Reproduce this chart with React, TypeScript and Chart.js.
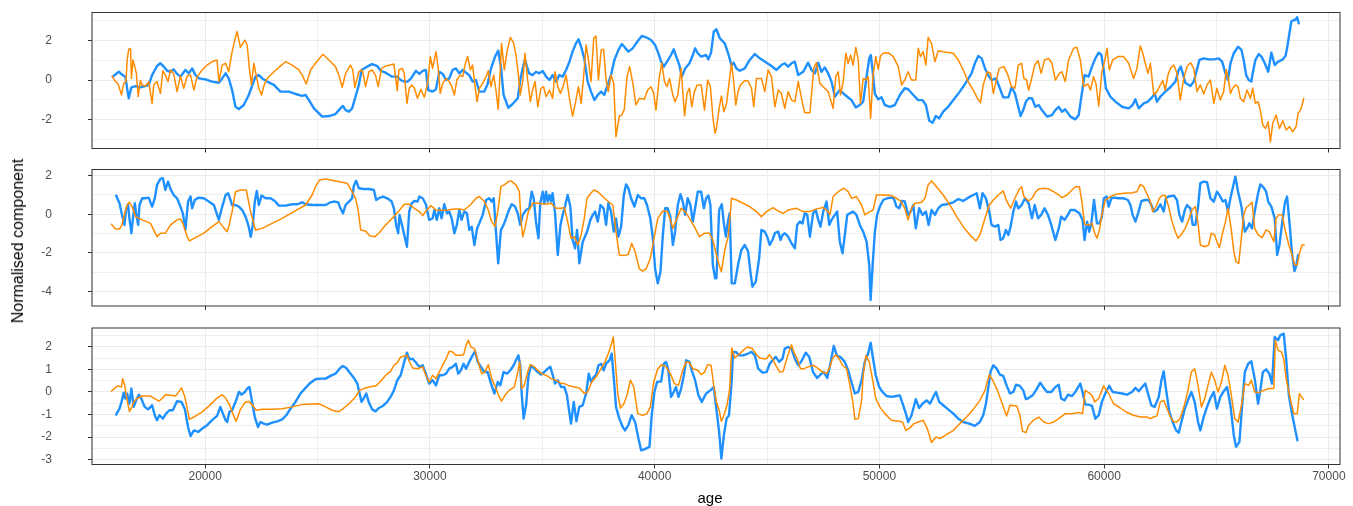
import React, { useEffect, useRef } from "react";
import { Chart, registerables } from "chart.js";
Chart.register(...registerables);

// ---------- axis ticks ----------
const xTickValues = [15000, 20000, 25000, 30000, 35000, 40000, 45000, 50000, 55000, 60000, 65000, 70000];
const xTickMajor = [20000, 30000, 40000, 50000, 60000, 70000];
const xMin = 14966;
const xMax = 70495;

const p1YTicks = [-3, -2, -1, 0, 1, 2, 3];
const p1YMajor = [-2, 0, 2];
const p2YTicks = [-4, -3, -2, -1, 0, 1, 2];
const p2YMajor = [-4, -2, 0, 2];
const p3YTicks = [-3, -2.5, -2, -1.5, -1, -0.5, 0, 0.5, 1, 1.5, 2, 2.5];
const p3YMajor = [-3, -2, -1, 0, 1, 2];

// ---------- data: [age, normalised value] ----------
const p1Blue = [[15890,0.17],[16160,0.42],[16330,0.25],[16450,0.17],[16600,-0.93],[16720,-0.37],[16900,-0.31],[17120,-0.37],[17340,-0.31],[17490,-0.25],[17640,0.25],[17860,0.71],[18010,0.85],[18160,0.68],[18310,0.47],[18460,0.42],[18600,0.54],[18750,0.31],[18900,0.17],[19120,0.51],[19270,0.34],[19420,0.59],[19570,0.25],[19720,0.08],[20010,0.03],[20310,-0.08],[20610,-0.14],[20760,0.08],[20910,0.34],[21050,0.08],[21200,-0.51],[21350,-1.36],[21500,-1.47],[21720,-1.27],[21940,-0.76],[22240,0.17],[22390,0.25],[22540,0.08],[22760,-0.08],[23060,-0.25],[23350,-0.59],[23720,-0.59],[24020,-0.71],[24320,-0.81],[24470,-0.76],[24620,-1.02],[24840,-1.44],[25210,-1.86],[25510,-1.83],[25800,-1.73],[26020,-1.44],[26130,-1.32],[26250,-1.53],[26400,-1.61],[26540,-1.44],[26690,-0.85],[26840,-0.25],[26960,0.51],[27210,0.68],[27430,0.81],[27660,0.71],[27810,0.47],[28030,0.37],[28320,0.17],[28550,0.17],[28700,0.00],[28860,-0.08],
[29010,-0.08],[29160,0.08],[29380,0.47],[29530,0.31],[29680,0.46],[29820,0.51],[29930,-0.51],[30120,-0.59],[30270,-0.47],[30420,0.42],[30570,0.31],[30720,0.00],[30860,0.08],[31010,0.51],[31160,0.59],[31310,0.34],[31460,0.51],[31610,0.37],[31750,0.25],[31900,-0.08],[32050,0.00],[32200,-0.59],[32420,-0.59],[32570,-0.20],[32720,0.59],[32900,1.19],[33040,1.49],[33160,0.68],[33280,-0.76],[33490,-1.41],[33680,-1.22],[33910,-0.93],[34020,0.00],[34130,0.59],[34230,1.05],[34320,0.68],[34420,0.34],[34570,0.25],[34720,0.42],[34870,0.34],[35020,0.46],[35170,0.17],[35320,0.00],[35460,0.25],[35610,-0.08],[35760,0.25],[35910,0.17],[36060,0.51],[36210,0.93],[36350,1.44],[36500,1.86],[36610,2.07],[36730,1.69],[36870,1.10],[37020,-0.08],[37170,-0.59],[37320,-1.02],[37470,-0.76],[37620,-0.59],[37760,-0.76],[37910,-0.25],[38060,0.25],[38210,1.02],[38390,1.53],[38540,1.83],[38650,1.69],[38830,1.44],[39020,1.61],[39250,1.98],[39430,2.24],[39620,2.17],[39840,2.03],[40020,1.78],[40140,1.44],[40290,0.93],[40410,0.68],[40580,0.98],[40730,1.27],[40850,1.56],[40950,1.22],[41100,0.76],[41210,0.17],[41360,0.59],[41550,0.85],[41700,1.27],[41800,1.61],[41920,1.36],[42070,1.19],[42290,1.27],[42390,1.05],[42510,1.39],[42630,2.46],[42750,2.58],
[42900,2.12],[43120,1.86],[43270,1.36],[43420,0.76],[43520,0.88],[43640,0.59],[43790,0.47],[44010,0.59],[44230,1.02],[44460,1.32],[44680,1.10],[44980,0.88],[45200,0.71],[45420,0.51],[45640,0.76],[45790,0.85],[45940,0.68],[46090,0.85],[46240,0.93],[46390,0.25],[46610,0.42],[46830,0.88],[46980,0.51],[47130,0.34],[47280,0.88],[47420,0.42],[47570,0.64],[47720,0.34],[47870,-0.08],[48020,-0.85],[48120,-0.68],[48240,-0.51],[48390,-0.68],[48570,-0.85],[48760,-1.02],[48950,-1.39],[49130,-1.27],[49280,-1.10],[49430,0.17],[49550,1.10],[49620,1.27],[49720,0.25],[49800,-0.71],[49950,-0.98],[50100,-0.88],[50240,-1.27],[50470,-1.36],[50690,-1.27],[50910,-0.76],[51130,-0.42],[51280,-0.47],[51510,-0.76],[51730,-1.02],[51920,-1.02],[52070,-1.27],[52220,-2.07],[52370,-2.17],[52510,-1.83],[52660,-1.95],[52840,-1.61],[53060,-1.36],[53290,-1.02],[53580,-0.59],[53880,-0.08],[54100,0.34],[54250,0.85],[54400,1.22],[54550,1.10],[54700,0.59],[54840,0.25],[54990,0.00],[55190,0.08],[55360,-0.42],[55510,-0.88],[55740,-0.88],[55880,-0.37],[56030,-0.68],[56180,-1.36],[56280,-1.83],[56400,-1.53],[56520,-1.10],[56640,-0.93],
[56790,-0.93],[56940,-1.36],[57090,-1.27],[57230,-1.53],[57460,-1.86],[57680,-1.78],[57830,-1.53],[57980,-1.36],[58120,-1.61],[58270,-1.49],[58500,-1.86],[58720,-2.00],[58870,-1.78],[59010,-0.68],[59130,0.25],[59310,0.17],[59460,0.68],[59610,1.10],[59760,1.39],[59880,1.27],[59980,0.51],[60080,-0.42],[60280,-0.85],[60500,-1.10],[60800,-1.36],[61090,-1.44],[61270,-1.27],[61390,-0.98],[61540,-1.44],[61760,-1.19],[61950,-1.10],[62130,-0.88],[62250,-0.68],[62350,-1.10],[62500,-0.85],[62720,-0.59],[62950,-0.37],[63170,-0.08],[63320,0.51],[63410,0.68],[63500,0.34],[63610,-0.14],[63840,-0.31],[63990,-0.08],[64130,0.54],[64240,1.02],[64430,1.10],[64650,1.05],[64880,1.05],[65100,1.10],[65250,0.93],[65400,0.34],[65510,0.00],[65620,0.85],[65770,1.36],[65960,1.69],[66110,1.53],[66210,1.02],[66320,0.25],[66430,0.00],[66550,-0.08],[66610,0.34],[66730,1.02],[66880,1.32],[67000,1.19],[67150,0.85],[67300,0.42],[67440,1.39],[67590,0.76],[67740,0.93],[67920,1.02],[68070,1.22],[68140,1.61],[68220,2.20],[68330,2.97],[68440,3.05],[68510,3.05],[68590,3.19],[68660,2.88]];

const p1Orange = [[15860,0.20],[16010,-0.08],[16130,-0.20],[16280,-0.76],[16380,-0.17],[16480,-0.08],[16530,1.02],[16600,1.56],[16680,1.61],[16720,0.08],[16790,1.02],[16870,0.68],[16940,0.34],[17020,-0.85],[17120,-0.03],[17200,-0.25],[17340,-0.31],[17490,-0.08],[17640,-1.19],[17710,-0.25],[17860,-0.08],[18010,-0.68],[18120,0.47],[18230,0.25],[18350,-0.08],[18460,0.51],[18600,0.31],[18750,-0.59],[18900,0.20],[19050,-0.42],[19200,0.20],[19350,0.25],[19500,-0.51],[19640,0.17],[19870,0.51],[20090,0.76],[20310,0.93],[20530,1.02],[20610,-0.08],[20760,0.76],[20910,0.85],[21050,0.42],[21200,1.44],[21320,2.03],[21420,2.46],[21570,1.66],[21680,1.86],[21770,2.03],[21870,1.78],[21970,0.59],[22060,-0.25],[22170,0.85],[22270,0.25],[22390,-0.42],[22510,-0.76],[22610,-0.31],[22760,0.08],[23060,0.42],[23280,0.64],[23580,0.93],[23870,0.76],[24170,0.51],[24320,0.25],[24500,-0.20],[24690,0.51],[24910,0.85],[25240,1.31],[25510,1.02],[25800,0.68],[25950,0.25],[26100,-0.37],[26250,0.34],[26470,0.76],[26570,0.51],[26660,-0.37],[26840,0.42],[26990,0.51],[27140,-0.34],[27290,0.42],[27430,0.51],[27580,0.25],[27700,-0.34],[27850,0.59],[28030,0.71],[28250,0.76],[28400,0.81],[28550,-0.54],[28620,0.51],[28770,0.59],[28860,0.34],
[28980,-1.19],[29080,-0.42],[29190,-0.25],[29310,-0.42],[29450,-0.93],[29600,-0.47],[29750,-0.88],[29900,-0.17],[30020,1.19],[30120,0.59],[30270,1.44],[30370,0.59],[30460,-0.68],[30570,-0.17],[30720,0.08],[30860,-0.08],[30970,-0.31],[31090,-0.76],[31200,0.00],[31350,0.25],[31460,0.17],[31560,0.76],[31680,1.19],[31800,0.51],[31900,0.76],[32010,-0.34],[32100,-1.10],[32200,-0.42],[32350,-0.17],[32500,0.17],[32600,0.47],[32720,-0.34],[32840,0.25],[32940,-0.51],[33040,-1.49],[33190,1.86],[33310,0.51],[33430,1.44],[33580,2.17],[33730,1.86],[33830,1.27],[33940,0.25],[34020,-0.76],[34130,-0.08],[34230,1.36],[34350,0.00],[34470,-1.10],[34570,-0.51],[34680,-0.08],[34800,-1.36],[34940,-0.42],[35060,-0.34],[35170,-0.85],[35320,-0.51],[35460,-0.93],[35570,0.42],[35690,-0.34],[35810,-0.68],[35920,-0.37],[36060,0.25],[36210,-0.93],[36350,-1.83],[36500,-1.02],[36610,-0.34],[36730,-1.19],[36840,0.17],[36950,1.78],[37050,1.05],[37170,-0.08],[37290,2.12],[37390,2.24],[37500,0.00],[37620,1.53],[37730,1.56],[37840,0.00],[37940,-0.59],[38060,0.25],[38180,-0.17],[38280,-2.88],[38430,-1.83],[38540,-1.78],[38650,-1.49],[38770,0.17],[38890,0.68],[39030,-0.17],[39170,-1.27],[39320,-0.93],[39540,-0.98],[39690,-0.51],[39840,-0.34],[39960,-0.68],[40060,-1.53],[40210,0.17],[40320,0.85],[40440,-0.08],[40550,-0.34],[40660,0.08],[40810,-0.76],[40910,-1.10],[41030,-0.76],[41180,0.59],[41330,-1.83],[41440,-0.68],[41550,-0.42],[41650,-1.36],[41770,-0.59],[41890,-0.25],[42070,-0.25],[42220,-1.53],[42360,0.00],[42480,-0.34],[42590,-1.86],[42690,-2.71],
[42750,-2.46],[42870,-1.44],[42970,-0.81],[43080,-1.61],[43200,-1.19],[43310,-0.17],[43420,0.85],[43520,-0.08],[43610,-1.27],[43710,-0.59],[43820,-0.25],[44010,-0.03],[44160,-0.05],[44310,-0.42],[44410,-1.36],[44530,0.08],[44750,0.08],[44900,-0.59],[45050,0.51],[45200,0.17],[45350,-1.36],[45500,-0.51],[45640,-0.68],[45790,-1.44],[45940,-0.59],[46090,-1.02],[46240,-1.10],[46390,-0.08],[46580,-1.19],[46680,-1.66],[46910,-1.66],[47080,0.59],[47200,0.88],[47350,-0.17],[47500,-0.34],[47720,-0.59],[47940,-1.44],[48060,0.17],[48170,0.42],[48270,-0.76],[48390,-0.08],[48510,1.36],[48610,0.85],[48720,1.27],[48830,0.76],[48950,1.66],[49060,1.02],[49160,-1.19],[49280,0.08],[49400,0.00],[49500,0.17],[49610,-1.95],[49720,0.25],[49840,1.19],[49950,0.54],[50050,1.22],[50170,1.36],[50390,1.39],[50620,1.19],[50840,0.68],[50990,-0.25],[51130,0.00],[51280,0.42],[51430,0.00],[51620,0.00],[51730,1.61],[51830,1.19],[51950,1.44],[52070,0.76],[52170,2.17],[52320,1.86],[52470,0.93],[52620,1.49],[52840,1.44],[53290,1.36],[53510,1.02],[53730,0.51],[53950,-0.08],[54180,-0.51],[54360,-0.93],[54500,-1.15],[54620,-0.25],[54800,0.42],[54950,0.34],[55070,-0.68],[55190,-0.08],[55330,0.59],[55540,0.68],[55690,0.34],[55880,-0.34],[56030,-0.42],[56180,0.76],[56330,0.85],[56430,0.08],[56550,0.00],
[56640,-0.51],[56760,0.00],[56910,0.76],[57060,0.98],[57200,0.34],[57350,1.02],[57530,1.10],[57680,0.85],[57830,0.00],[58010,0.34],[58120,0.42],[58270,-0.08],[58420,1.02],[58640,1.61],[58790,1.66],[58940,1.02],[59090,-0.34],[59280,-0.20],[59390,-0.51],[59530,0.17],[59640,-0.20],[59760,-1.32],[59900,0.42],[60020,0.93],[60130,1.61],[60230,0.51],[60380,1.02],[60620,1.19],[60870,1.19],[61090,0.85],[61310,0.08],[61460,0.59],[61610,1.73],[61720,1.36],[61830,0.85],[61950,0.34],[62060,0.85],[62210,-0.76],[62350,-0.59],[62500,-0.25],[62610,-0.03],[62720,-0.51],[62840,0.25],[62950,0.59],[63100,0.76],[63240,0.34],[63390,-1.02],[63540,0.08],[63690,0.68],[63840,0.88],[63990,0.59],[64130,-0.59],[64280,-0.25],[64430,-0.71],[64580,-0.25],[64730,0.00],[64880,-1.19],[65020,-0.42],[65170,-1.02],[65320,-0.59],[65430,0.54],[65510,0.17],[65620,-0.68],[65720,-0.42],[65840,-0.25],[65960,-0.34],[66060,-0.93],[66210,-1.10],[66360,-0.51],[66510,-0.93],[66610,-0.42],[66730,-1.19],[66850,-1.10],[66950,-1.53],[67060,-2.29],[67180,-2.46],[67300,-2.12],[67400,-3.14],[67500,-2.20],[67650,-1.78],[67800,-2.46],[67950,-2.07],[68100,-2.54],[68250,-2.37],[68390,-2.63],[68540,-2.37],[68630,-1.69],[68740,-1.53],[68810,-1.27],[68880,-0.93]];

const p2Blue = [[16040,0.97],[16190,0.57],[16300,-0.03],[16410,-0.55],[16480,0.22],[16570,0.52],[16630,-0.21],[16720,-0.98],[16780,-0.29],[16870,0.57],[16940,-0.03],[17020,-0.55],[17080,0.48],[17200,0.83],[17340,0.83],[17490,0.86],[17640,0.40],[17760,0.83],[17860,1.52],[18010,1.83],[18120,1.87],[18230,1.26],[18350,1.69],[18460,1.31],[18600,1.00],[18750,0.83],[18900,0.40],[19010,0.05],[19120,-0.81],[19240,0.66],[19350,0.92],[19420,0.31],[19540,0.74],[19690,0.86],[19940,0.83],[20160,0.66],[20390,0.48],[20610,-0.29],[20760,0.40],[20910,1.00],[21020,1.09],[21130,0.74],[21200,0.48],[21350,0.48],[21500,0.40],[21650,0.22],[21800,-0.12],[21940,-0.64],[22030,-1.16],[22120,-0.55],[22210,0.66],[22300,1.21],[22390,0.48],[22510,0.97],[22690,0.83],[22910,0.83],[23100,0.69],[23280,0.45],[23580,0.45],[23870,0.52],[24100,0.52],[24320,0.62],[24470,0.52],[24760,0.48],[25060,0.48],[25360,0.48],[25580,0.62],[25770,0.66],[25920,0.62],[26020,0.31],[26130,0.05],[26250,0.48],[26400,0.66],[26540,0.83],[26620,1.49],[26720,1.73],[26840,1.35],[27060,1.31],[27290,1.31],[27510,1.26],[27610,0.74],[27730,0.83],[27910,0.92],[28100,0.83],[28300,0.66],[28400,0.31],[28500,-0.55],[28590,-0.98],[28650,-0.03],[28740,-0.47],
[28860,-1.07],[28980,-1.68],[29080,0.14],[29190,0.57],[29310,0.69],[29450,0.66],[29530,0.92],[29680,0.83],[29820,0.52],[29970,-0.29],[30120,-0.21],[30200,0.22],[30310,-0.29],[30420,0.31],[30520,-0.21],[30640,0.52],[30760,0.05],[30860,0.14],[30970,-0.21],[31090,-0.98],[31200,-0.55],[31310,0.22],[31410,-0.29],[31530,0.14],[31650,0.05],[31750,-0.81],[31860,-0.64],[31980,-1.59],[32100,-0.73],[32200,-0.47],[32350,-0.03],[32500,0.74],[32640,0.83],[32750,0.66],[32840,0.83],[32940,-0.90],[33040,-2.54],[33160,-0.81],[33280,-0.55],[33390,-0.21],[33490,0.14],[33640,0.52],[33790,0.40],[33910,0.05],[34020,-0.55],[34130,-0.03],[34280,0.22],[34420,0.31],[34530,1.17],[34620,0.83],[34720,-0.38],[34830,-1.24],[34910,0.57],[35020,1.17],[35090,0.57],[35170,1.17],[35240,0.66],[35320,1.00],[35390,0.66],[35460,1.09],[35570,0.05],[35690,-2.11],[35810,-0.55],[35910,-0.03],[36010,0.40],[36130,1.00],[36250,0.40],[36350,-1.33],[36460,-1.76],[36550,-0.81],[36650,-2.54],[36800,-1.42],[36900,-1.16],[37020,-0.81],[37140,-0.29],[37250,-0.03],[37350,0.14],[37470,-0.38],[37590,0.48],[37730,0.31],[37840,-0.55],[37940,0.57],[38060,0.14],[38180,-0.90],[38280,-0.21],[38390,-1.16],[38510,-0.64],[38630,1.00],[38730,1.55],[38830,1.35],[38950,0.83],[39100,0.40],[39250,1.00],[39400,0.83],[39540,0.83],[39660,0.48],[39810,-0.21],[39920,-1.24],[40020,-2.80],[40140,-3.58],[40260,-2.97],[40360,-1.16],[40470,0.31],[40580,0.31],[40700,-0.12],[40810,-1.59],[40910,-0.90],[41030,0.48],[41150,1.04],[41250,0.66],[41360,-0.03],[41470,0.83],[41590,0.48],[41700,-0.38],[41800,0.31],[41920,1.17],[42070,1.17],[42190,0.31],[42290,0.83],[42390,0.97],[42480,0.48],[42590,-2.63],[42690,-3.32],
[42750,-3.32],[42870,0.22],[42990,0.52],[43080,-0.47],[43170,-1.16],[43260,-0.38],[43340,0.05],[43430,-3.58],[43570,-3.58],[43710,-2.63],[43860,-1.85],[44010,-1.59],[44160,-1.93],[44260,-2.97],[44350,-3.75],[44500,-3.49],[44650,-2.28],[44750,-0.81],[44900,-0.90],[45010,-1.16],[45120,-1.59],[45240,-1.33],[45350,-0.98],[45500,-0.90],[45600,-1.33],[45690,-1.07],[45790,-0.98],[45940,-1.16],[46090,-1.50],[46240,-1.76],[46340,-0.55],[46460,-0.38],[46580,-0.47],[46680,0.05],[46790,-0.03],[46910,-1.16],[47050,0.05],[47170,0.22],[47280,-0.29],[47380,-0.64],[47500,0.14],[47650,0.66],[47770,-0.55],[47870,-0.29],[48020,-0.03],[48120,0.14],[48240,-1.42],[48360,-2.02],[48480,-0.90],[48570,-0.03],[48690,0.05],[48830,0.14],[48980,-0.03],[49130,-0.55],[49280,-0.90],[49430,-1.42],[49550,-2.63],[49610,-4.44],[49700,-2.63],[49800,-0.90],[49900,-0.03],[50020,0.40],[50170,0.74],[50350,0.83],[50500,0.86],[50640,0.83],[50760,0.40],[50880,0.31],[51000,0.69],[51130,0.66],[51280,-0.03],[51390,0.14],[51510,0.48],[51620,-0.73],[51770,0.31],[51920,-0.03],[52070,0.14],[52190,-0.55],[52320,0.22],[52470,-0.03],[52620,0.31],[52770,0.48],[52990,0.52],[53290,0.62],[53510,0.79],[53730,0.69],[53950,0.86],[54180,1.00],[54330,1.09],[54470,0.31],[54590,1.09],[54740,0.83],[54890,0.14],[54990,-0.55],[55140,-0.64],[55290,-0.55],[55390,-1.33],[55510,-1.24],[55630,-0.81],[55740,-1.07],[55840,-0.64],[55960,0.14],[56080,0.66],[56180,0.31],[56330,0.48],[56480,0.83],
[56640,0.57],[56790,-0.21],[56910,0.48],[57060,-0.21],[57200,-0.03],[57350,0.31],[57500,-0.03],[57650,-0.55],[57830,-1.33],[57980,-0.73],[58090,-0.12],[58240,-0.29],[58390,-0.03],[58500,0.22],[58690,0.22],[58900,0.05],[59040,-0.29],[59130,-1.33],[59240,-0.38],[59340,-0.90],[59430,-0.47],[59550,0.74],[59680,-0.47],[59790,-0.47],[59900,-0.12],[59990,0.83],[60110,0.92],[60200,0.40],[60320,0.83],[60470,0.86],[60650,0.83],[60870,0.83],[61060,0.74],[61170,0.48],[61270,-0.03],[61390,-0.38],[61510,0.05],[61660,0.69],[61830,0.74],[61980,0.74],[62100,0.48],[62210,0.14],[62350,0.22],[62500,0.52],[62650,0.14],[62750,0.83],[62870,0.92],[63100,0.97],[63240,0.74],[63350,-0.03],[63470,-0.38],[63590,0.22],[63690,0.48],[63840,0.31],[63940,-0.55],[64060,-0.55],[64180,0.40],[64280,1.61],[64430,1.69],[64580,1.66],[64730,0.83],[64880,0.66],[65020,1.17],[65130,1.00],[65280,0.66],[65400,0.74],[65510,0.14],[65620,0.83],[65720,1.35],[65840,1.95],[65960,1.17],[66110,0.40],[66260,-0.90],[66360,-0.73],[66460,-0.47],[66580,-0.73],[66700,0.14],[66850,1.09],[66950,1.55],[67100,1.38],[67210,1.17],[67300,0.66],[67440,0.40],[67590,-0.21],[67700,-2.11],[67800,-1.59],[67920,-0.47],[68040,0.57],[68140,0.92],[68250,-0.47],[68360,-2.02],[68470,-2.94],[68540,-2.71],[68630,-2.11]];

const p2Orange = [[15830,-0.52],[16010,-0.76],[16190,-0.76],[16300,-0.55],[16380,-0.12],[16530,0.48],[16630,0.62],[16750,0.40],[16900,-0.12],[17200,-0.29],[17570,-0.47],[17710,-0.81],[17860,-1.16],[18010,-0.98],[18230,-0.98],[18460,-0.55],[18750,-0.29],[18900,-0.24],[19010,-0.47],[19200,-1.16],[19300,-1.38],[19570,-1.21],[19940,-0.98],[20310,-0.64],[20610,-0.38],[20790,-0.64],[20980,-0.90],[21050,-0.64],[21200,0.14],[21350,1.17],[21570,1.26],[21830,1.26],[22020,0.14],[22240,-0.81],[22540,-0.73],[22980,-0.47],[23430,-0.21],[23950,0.14],[24470,0.48],[24760,1.00],[24910,1.43],[25090,1.78],[25360,1.83],[25800,1.73],[26320,1.61],[26540,1.17],[26690,0.83],[26810,0.22],[26920,-0.81],[27140,-0.86],[27320,-1.11],[27550,-1.16],[27730,-0.98],[28030,-0.55],[28400,-0.12],[28620,0.17],[28860,0.52],
[29080,0.52],[29310,0.31],[29530,0.14],[29680,-0.07],[29820,0.17],[30050,0.45],[30270,0.22],[30490,0.21],[30790,0.22],[31090,0.28],[31310,0.28],[31530,0.22],[31830,0.52],[32050,0.83],[32200,0.92],[32420,0.66],[32570,0.31],[32750,-0.38],[32900,-0.64],[33040,0.31],[33160,1.43],[33310,1.52],[33490,1.69],[33610,1.73],[33830,1.52],[33980,1.17],[34050,-0.21],[34130,-1.16],[34230,-0.73],[34380,0.14],[34570,0.57],[34800,0.57],[35090,0.52],[35390,0.57],[35610,0.31],[35840,0.31],[35980,0.35],[36130,-0.38],[36280,-1.24],[36430,-1.16],[36580,-1.59],[36730,-1.07],[36870,-0.21],[36990,0.83],[37100,1.00],[37290,1.26],[37470,1.17],[37690,0.92],[37910,0.69],[38140,0.48],[38280,-0.90],[38430,-2.11],[38650,-2.14],[38830,-2.07],[38980,-1.50],[39130,-1.93],[39320,-2.83],[39470,-2.94],[39620,-2.83],[39810,-2.28],[39960,-1.33],[40140,-0.21],[40360,0.17],[40580,0.14],[40810,-0.73],[41000,-0.21],[41180,0.31],[41360,0.14],[41550,-0.21],[41770,-0.64],[41990,-1.16],[42220,-0.98],[42440,-0.98],[42590,-1.33],
[42750,-2.11],[42870,-2.63],[42970,-2.97],[43120,-1.85],[43270,-1.16],[43370,0.05],[43420,0.83],[43640,0.74],[43940,0.57],[44230,0.40],[44530,0.14],[44750,-0.12],[44980,0.14],[45270,0.35],[45500,0.17],[45720,0.05],[45940,0.22],[46310,0.31],[46610,0.14],[46910,0.14],[47200,0.28],[47500,0.35],[47720,0.14],[47800,-0.03],[47940,0.92],[48170,1.17],[48420,1.35],[48610,1.17],[48760,0.83],[48980,0.92],[49210,0.48],[49350,-0.03],[49580,0.14],[49720,0.22],[49870,1.00],[50170,1.00],[50540,0.97],[50760,0.83],[50940,0.69],[51130,0.31],[51280,-0.29],[51430,0.31],[51580,0.57],[51880,0.62],[52030,0.83],[52170,1.52],[52320,1.73],[52540,1.43],[52840,1.00],[53140,0.48],[53440,-0.12],[53730,-0.64],[54030,-1.07],[54300,-1.38],[54470,-1.07],[54700,-0.21],[54890,0.48],[55070,0.74],[55290,1.00],[55510,1.21],[55660,0.69],[55840,0.31],[56030,0.83],[56230,1.31],[56330,1.43],[56430,0.92],
[56640,0.69],[56790,0.83],[56940,1.14],[57090,1.31],[57310,1.35],[57530,1.31],[57750,1.17],[57980,1.00],[58120,0.86],[58350,1.00],[58570,1.26],[58720,1.43],[58900,1.43],[59010,0.66],[59130,-0.52],[59340,-0.55],[59460,-0.47],[59580,-0.98],[59680,-1.24],[59790,-0.81],[59900,-0.03],[60050,0.74],[60280,0.92],[60530,1.04],[60870,1.09],[61240,1.12],[61460,1.17],[61610,1.55],[61760,1.43],[61910,1.04],[62060,0.66],[62160,0.14],[62310,0.40],[62460,0.83],[62580,0.97],[62720,0.97],[62870,0.40],[63020,-0.38],[63170,-0.90],[63290,-1.24],[63470,-0.98],[63610,-0.73],[63760,-0.29],[63910,0.22],[64060,0.40],[64180,-0.47],[64280,-1.59],[64480,-1.68],[64650,-1.59],[64770,-0.98],[64920,-1.07],[65020,-1.42],[65130,-1.73],[65250,-1.07],[65400,-0.38],[65510,0.31],[65660,-0.81],[65770,-1.93],[65870,-2.45],[65990,-2.54],[66110,-1.16],[66210,-0.03],[66320,0.35],[66460,0.48],[66580,0.62],[66700,-0.73],[66850,-1.07],[67030,-1.21],[67210,-0.81],[67350,-0.90],[67550,-1.42],[67650,-0.21],[67770,-0.03],[67920,-0.03],[68070,-0.90],[68220,-1.59],[68360,-2.11],[68480,-2.63],[68590,-2.63],[68690,-2.02],[68810,-1.59],[68900,-1.59]];

const p3Blue = [[16040,-1.00],[16190,-0.74],[16280,-0.44],[16380,-0.03],[16450,-0.29],[16530,-0.07],[16630,-0.52],[16720,0.15],[16820,-0.66],[16930,-0.37],[17050,-0.12],[17170,-0.32],[17310,-0.66],[17460,-0.77],[17640,-0.59],[17760,-1.03],[17860,-1.25],[17970,-1.03],[18120,-1.18],[18260,-0.96],[18410,-0.81],[18560,-0.81],[18750,-0.41],[18950,-0.44],[19100,-0.77],[19240,-1.55],[19350,-1.95],[19500,-1.70],[19690,-1.77],[19870,-1.62],[20090,-1.47],[20310,-1.25],[20530,-1.06],[20680,-0.66],[20790,-0.96],[20910,-1.25],[20980,-1.33],[21080,-0.88],[21200,-0.81],[21380,-0.37],[21500,0.00],[21620,-0.12],[21770,0.00],[21870,0.15],[21970,0.22],[22090,-0.44],[22210,-1.11],[22350,-1.55],[22460,-1.33],[22610,-1.40],[22760,-1.45],[22980,-1.36],[23210,-1.30],[23430,-1.21],[23610,-1.03],[23800,-0.74],[24020,-0.44],[24240,-0.07],[24470,0.18],[24690,0.41],[24910,0.56],[25130,0.59],[25360,0.59],[25580,0.71],[25800,0.81],[25980,1.03],[26130,1.15],[26280,1.06],[26430,0.86],[26620,0.62],[26770,0.37],[26840,0.07],[26960,-0.44],[27060,-0.27],[27170,-0.07],[27290,-0.47],[27430,-0.77],[27580,-0.86],[27730,-0.71],[27910,-0.62],[28100,-0.44],[28250,-0.22],[28400,0.07],[28550,0.52],[28700,0.74],[28860,1.33],
[28980,1.74],[29080,1.45],[29230,1.47],[29380,1.30],[29530,1.11],[29680,1.18],[29820,0.81],[29970,0.37],[30120,0.52],[30270,0.29],[30420,0.74],[30570,0.74],[30720,0.81],[30860,1.03],[31010,1.11],[31160,1.25],[31260,0.81],[31380,0.96],[31500,1.25],[31610,1.03],[31750,1.33],[31900,1.62],[32010,1.80],[32130,1.33],[32270,1.11],[32420,0.88],[32570,0.88],[32720,0.37],[32870,-0.07],[33020,0.44],[33130,0.29],[33280,0.88],[33430,0.81],[33580,0.96],[33730,1.18],[33830,1.40],[33940,1.62],[34020,1.18],[34080,0.00],[34170,-1.18],[34280,-0.59],[34380,0.66],[34500,1.18],[34650,1.03],[34800,0.88],[34940,0.77],[35090,0.88],[35240,1.03],[35360,1.11],[35460,0.77],[35570,0.37],[35690,0.52],[35840,0.22],[35980,0.22],[36100,-0.15],[36160,-0.59],[36280,-1.40],[36400,-0.44],[36520,-1.30],[36650,-0.66],[36800,-0.59],[36950,-0.07],[37070,0.81],[37170,0.44],[37290,0.66],[37390,0.74],[37500,1.18],[37620,1.25],[37730,0.96],[37840,1.25],[37990,1.40],[38090,1.70],[38210,0.29],[38280,-0.66],[38430,-1.18],[38580,-1.55],[38680,-1.70],[38830,-1.47],[38980,-1.03],[39130,-1.33],[39280,-2.06],[39400,-2.58],[39540,-2.54],[39770,-2.43],[39870,-1.03],[39990,0.00],[40110,0.44],[40290,0.47],[40410,1.25],[40510,1.33],[40610,0.96],[40730,-0.22],[40850,0.00],[40950,0.22],[41060,-0.22],[41180,0.15],[41300,0.74],[41400,1.40],[41550,1.33],[41650,0.96],[41800,0.52],[41950,-0.15],[42100,-0.44],[42290,-0.07],[42480,0.07],[42630,0.22],
[42870,-1.77],[42970,-2.95],[43080,-1.92],[43200,-1.18],[43310,-1.03],[43420,0.37],[43490,1.77],[43610,1.77],[43760,1.62],[43940,1.62],[44160,1.70],[44310,1.77],[44460,1.62],[44610,1.03],[44800,0.86],[44980,0.88],[45120,1.25],[45240,1.40],[45390,1.55],[45540,1.33],[45690,1.47],[45790,1.92],[45940,1.99],[46090,1.92],[46240,1.47],[46390,1.18],[46530,1.36],[46730,1.74],[46880,1.55],[47050,0.88],[47230,0.62],[47380,0.77],[47530,0.88],[47680,0.62],[47830,1.30],[47970,2.04],[48120,1.59],[48270,1.55],[48460,1.33],[48610,0.96],[48760,0.44],[48910,-0.07],[49060,0.00],[49210,0.52],[49350,1.33],[49500,1.70],[49610,2.18],[49720,1.47],[49840,0.74],[49990,0.22],[50140,0.00],[50320,-0.18],[50540,-0.22],[50760,-0.18],[50910,-0.15],[51060,-0.59],[51180,-0.96],[51280,-1.33],[51430,-1.03],[51620,-0.32],[51770,-0.71],[51920,-0.52],[52100,-0.37],[52250,-0.52],[52400,-0.22],[52520,0.00],[52660,-0.44],[52840,-0.59],[53060,-0.77],[53290,-0.96],[53510,-1.18],[53730,-1.33],[54000,-1.40],[54250,-1.50],[54470,-1.33],[54620,-1.03],[54740,-0.52],[54840,0.15],[54950,0.91],[55070,1.18],[55220,1.03],[55360,0.77],[55510,0.71],[55660,0.29],[55810,-0.07],[55960,0.00],[56080,0.32],[56250,0.27],[56400,0.07],[56520,-0.32],[56640,-0.27],
[56820,-0.15],[57010,0.15],[57160,0.41],[57310,0.18],[57460,0.00],[57650,0.00],[57830,0.22],[57980,0.32],[58090,-0.29],[58240,-0.37],[58390,-0.12],[58570,-0.18],[58720,0.00],[58940,0.37],[59040,0.00],[59160,-0.56],[59310,-0.56],[59460,-0.62],[59610,-1.18],[59760,-1.03],[59900,-0.44],[60080,0.00],[60230,0.27],[60380,0.00],[60570,-0.03],[60800,-0.07],[61020,-0.12],[61240,0.00],[61390,0.18],[61540,0.03],[61690,0.22],[61830,0.37],[61950,-0.07],[62100,-0.59],[62250,-0.66],[62430,-0.22],[62550,0.52],[62650,0.91],[62750,0.15],[62900,-0.88],[63050,-1.33],[63200,-1.70],[63320,-1.80],[63440,-1.33],[63590,-0.74],[63730,-0.37],[63880,0.00],[64030,-0.44],[64180,-1.33],[64280,-1.70],[64430,-1.11],[64580,-0.66],[64730,-0.27],[64880,0.00],[65020,-0.74],[65170,-0.22],[65320,0.03],[65470,0.22],[65620,-0.59],[65770,-1.92],[65870,-2.43],[66020,-2.21],[66140,-0.59],[66260,0.88],[66410,1.25],[66550,1.36],[66700,0.59],[66850,-0.52],[66950,0.07],[67060,0.88],[67210,1.00],[67350,0.81],[67470,0.37],[67590,2.43],[67740,2.29],[67840,2.51],[67990,2.58],[68100,1.47],[68220,-0.15],[68360,-0.96],[68510,-1.70],[68600,-2.14]];

const p3Orange = [[15830,0.03],[15980,0.18],[16130,0.27],[16280,0.22],[16330,0.59],[16420,0.29],[16530,-0.37],[16630,-0.86],[16720,-0.71],[16820,-0.44],[16970,-0.29],[17200,-0.18],[17570,-0.18],[17940,-0.41],[18090,-0.29],[18230,-0.12],[18460,-0.15],[18680,-0.18],[18800,-0.03],[18950,0.18],[19100,-0.22],[19300,-1.21],[19500,-1.11],[19870,-0.88],[20240,-0.56],[20530,-0.27],[20760,-0.12],[20910,-0.27],[21080,-0.56],[21230,-0.96],[21380,-1.30],[21570,-0.77],[21770,-0.47],[21940,-0.41],[22090,-0.56],[22270,-0.81],[22540,-0.77],[22980,-0.77],[23430,-0.74],[23870,-0.66],[24320,-0.56],[24760,-0.53],[25060,-0.52],[25360,-0.66],[25650,-0.81],[25920,-0.88],[26100,-0.77],[26400,-0.52],[26690,-0.22],[26870,0.07],[27060,0.15],[27290,0.22],[27610,0.27],[27850,0.52],[28030,0.74],[28250,0.91],[28400,1.18],[28550,1.30],[28700,1.55],
[28980,1.62],[29080,1.36],[29230,1.06],[29450,1.03],[29680,1.11],[29820,0.74],[29970,0.44],[30120,0.74],[30270,0.59],[30490,1.03],[30720,1.47],[30860,1.80],[31010,1.77],[31160,1.62],[31350,1.62],[31500,1.65],[31610,2.06],[31710,2.29],[31830,1.99],[31980,1.92],[32130,1.40],[32300,0.81],[32450,0.88],[32600,1.21],[32750,0.59],[32940,0.15],[33090,-0.22],[33190,-0.41],[33340,-0.15],[33530,0.07],[33760,0.22],[33910,0.88],[34000,1.33],[34080,0.15],[34200,0.29],[34350,0.88],[34470,1.21],[34650,1.11],[34800,0.96],[34970,0.81],[35170,0.74],[35390,0.59],[35610,0.52],[35840,0.37],[35980,0.37],[36210,0.27],[36430,0.22],[36650,0.18],[36870,-0.07],[37020,0.00],[37200,0.44],[37390,0.66],[37620,1.03],[37790,1.33],[37940,1.70],[38060,2.06],[38160,2.43],[38240,1.47],[38360,-0.07],[38480,-0.71],[38630,-0.52],[38770,-0.15],[38920,0.52],[39070,0.22],[39250,-0.96],[39470,-1.03],[39660,-0.96],[39810,-0.66],[39960,0.44],[40140,1.03],[40320,1.21],[40510,1.11],[40700,0.81],[40880,0.37],[41060,0.29],[41250,0.96],[41400,1.33],[41550,1.30],[41700,1.03],[41920,0.96],[42070,0.77],[42220,0.88],[42360,1.21],[42510,1.18],[42630,0.29],
[42750,-0.44],[42870,-0.81],[42970,-1.30],[43080,-1.03],[43220,-0.59],[43340,0.15],[43430,1.95],[43570,1.50],[43790,1.70],[43940,1.84],[44120,1.99],[44350,1.92],[44530,1.65],[44680,1.50],[44830,1.47],[44980,1.47],[45100,1.65],[45240,1.47],[45390,1.18],[45570,0.88],[45720,0.91],[45900,1.55],[46090,2.09],[46190,1.77],[46340,1.47],[46490,1.03],[46640,1.03],[46830,1.11],[47080,1.18],[47280,1.03],[47470,0.88],[47650,0.81],[47800,1.11],[47910,1.47],[48060,1.65],[48210,1.47],[48360,1.18],[48540,1.03],[48690,0.29],[48830,-0.52],[48910,-1.21],[49060,-1.18],[49210,-0.37],[49280,0.74],[49400,1.62],[49550,1.33],[49700,0.52],[49840,-0.29],[50020,-0.66],[50240,-0.96],[50540,-1.25],[50880,-1.30],[51030,-1.33],[51180,-1.70],[51360,-1.59],[51540,-1.40],[51730,-1.33],[51950,-1.25],[52130,-1.62],[52320,-2.24],[52520,-1.99],[52690,-2.06],[52990,-1.89],[53290,-1.70],[53580,-1.40],[53880,-1.11],[54180,-0.77],[54470,-0.37],[54700,0.07],[54890,0.77],[55040,0.52],[55220,0.15],[55440,-0.44],[55660,-1.06],[55810,-0.59],[56110,-0.62],[56250,-1.03],[56370,-1.74],[56520,-1.80],
[56640,-1.47],[56860,-1.25],[57090,-1.11],[57310,-1.33],[57530,-1.40],[57750,-1.33],[57980,-1.18],[58270,-0.96],[58570,-0.96],[58870,-0.91],[59040,-0.96],[59160,0.07],[59310,-0.03],[59460,-0.15],[59580,-0.44],[59760,-0.29],[59980,0.27],[60200,-0.07],[60420,-0.52],[60720,-0.71],[61020,-0.91],[61310,-1.03],[61610,-1.11],[61910,-1.11],[62060,-1.18],[62210,-1.11],[62350,-1.06],[62500,-0.44],[62650,-0.37],[62800,-0.74],[62950,-1.11],[63100,-1.33],[63240,-1.33],[63390,-1.15],[63590,-0.52],[63730,0.07],[63880,0.88],[64030,1.03],[64180,0.29],[64330,-0.66],[64480,-0.29],[64620,0.29],[64770,0.88],[64920,0.52],[65070,0.00],[65220,0.44],[65370,1.18],[65510,0.74],[65660,-0.15],[65810,-1.18],[65960,-1.33],[66110,-0.59],[66260,0.37],[66430,0.29],[66550,0.52],[66700,0.00],[66880,-0.03],[67100,0.07],[67330,0.15],[67550,0.15],[67620,2.29],[67740,1.84],[67890,1.77],[67990,1.47],[68100,0.59],[68220,0.00],[68330,-0.52],[68440,-0.96],[68590,-0.96],[68690,-0.07],[68780,-0.22],[68870,-0.32]];

// ---------- styling ----------
const BLUE = "#1E90FF";
const ORANGE = "#FF8C00";
const GRID = "#EBEBEB";
const BORDER = "#333333";
const TICK_TEXT = "#4D4D4D";
const FONT = "'Liberation Sans', Arial, sans-serif";

type Panel = {
  blue: number[][];
  orange: number[][];
  yMin: number;
  yMax: number;
  yTicks: number[];
  yMajor: number[];
  top: number;
  height: number;
  padTop: number;
  xAxisH: number;
  showX: boolean;
};

const panels: Panel[] = [
  { blue: p1Blue, orange: p1Orange, yMin: -3.48, yMax: 3.43, yTicks: p1YTicks, yMajor: p1YMajor, top: 0, height: 160, padTop: 12.5, xAxisH: 11.5, showX: false },
  { blue: p2Blue, orange: p2Orange, yMin: -4.75, yMax: 2.32, yTicks: p2YTicks, yMajor: p2YMajor, top: 160, height: 157, padTop: 9.5, xAxisH: 11, showX: false },
  { blue: p3Blue, orange: p3Orange, yMin: -3.21, yMax: 2.83, yTicks: p3YTicks, yMajor: p3YMajor, top: 317, height: 189, padTop: 11, xAxisH: 41.5, showX: true },
];

const borderPlugin = {
  id: "panelBorder",
  afterDatasetsDraw(chart: any) {
    const { ctx, chartArea } = chart;
    ctx.save();
    ctx.strokeStyle = BORDER;
    ctx.lineWidth = 1;
    ctx.strokeRect(chartArea.left, chartArea.top, chartArea.right - chartArea.left, chartArea.bottom - chartArea.top);
    ctx.restore();
  },
};

function PanelChart({ p }: { p: Panel }) {
  const ref = useRef<HTMLCanvasElement | null>(null);
  useEffect(() => {
    if (!ref.current) return;
    const isMajorY = (v: number) => p.yMajor.some((m) => Math.abs(m - v) < 1e-9);
    const isMajorX = (v: number) => xTickMajor.indexOf(v) >= 0;
    const chart = new Chart(ref.current, {
      type: "line",
      data: {
        datasets: [
          {
            data: p.orange.map(([x, y]) => ({ x, y })),
            borderColor: ORANGE,
            borderWidth: 1.5,
            pointRadius: 0,
            tension: 0,
            borderJoinStyle: "round",
            borderCapStyle: "round",
          },
          {
            data: p.blue.map(([x, y]) => ({ x, y })),
            borderColor: BLUE,
            borderWidth: 2.4,
            pointRadius: 0,
            tension: 0,
            borderJoinStyle: "round",
            borderCapStyle: "round",
          },
        ],
      },
      options: {
        animation: false,
        responsive: false,
        devicePixelRatio: 1,
        events: [],
        layout: { padding: { top: p.padTop, left: 0, right: 13, bottom: 0 } },
        plugins: { legend: { display: false }, tooltip: { enabled: false } },
        scales: {
          x: {
            type: "linear",
            min: xMin,
            max: xMax,
            afterBuildTicks: (s: any) => {
              s.ticks = xTickValues.map((v) => ({ value: v }));
            },
            afterFit: (s: any) => {
              s.height = p.xAxisH;
              s.paddingLeft = 0;
              s.paddingRight = 0;
              s.paddingTop = 0;
              s.paddingBottom = 0;
            },
            border: { display: false },
            grid: {
              color: GRID,
              lineWidth: (c: any) => (c.tick && isMajorX(c.tick.value) ? 1 : 0.8),
              drawTicks: true,
              tickLength: 4,
              tickColor: (c: any) => (c.tick && isMajorX(c.tick.value) ? BORDER : "rgba(0,0,0,0)"),
              tickWidth: 1,
            },
            ticks: {
              display: p.showX,
              autoSkip: false,
              maxRotation: 0,
              padding: 1,
              color: TICK_TEXT,
              font: { family: FONT, size: 12 },
              callback: (v: any) => (isMajorX(Number(v)) ? String(v) : ""),
            },
          },
          y: {
            type: "linear",
            min: p.yMin,
            max: p.yMax,
            afterBuildTicks: (s: any) => {
              s.ticks = p.yTicks.map((v) => ({ value: v }));
            },
            afterFit: (s: any) => {
              s.width = 92;
              s.paddingTop = 0;
              s.paddingBottom = 0;
              s.paddingLeft = 0;
              s.paddingRight = 0;
            },
            border: { display: false },
            grid: {
              color: GRID,
              lineWidth: (c: any) => (c.tick && isMajorY(c.tick.value) ? 1 : 0.8),
              drawTicks: true,
              tickLength: 4,
              tickColor: (c: any) => (c.tick && isMajorY(c.tick.value) ? BORDER : "rgba(0,0,0,0)"),
              tickWidth: 1,
            },
            ticks: {
              autoSkip: false,
              padding: 36,
              color: TICK_TEXT,
              font: { family: FONT, size: 12 },
              callback: (v: any) => (isMajorY(Number(v)) ? String(v) : ""),
            },
          },
        },
      },
      plugins: [borderPlugin],
    } as any);
    return () => chart.destroy();
  }, [p]);
  return (
    <canvas
      ref={ref}
      width={1353}
      height={p.height}
      style={{ position: "absolute", left: 0, top: p.top, width: 1353, height: p.height }}
    />
  );
}

export default function App() {
  return (
    <div
      style={{
        position: "absolute",
        left: 0,
        top: 0,
        width: 1353,
        height: 506,
        background: "#FFFFFF",
        overflow: "hidden",
        fontFamily: FONT,
      }}
    >
      {panels.map((p, i) => (
        <PanelChart key={i} p={p} />
      ))}
      <div
        style={{
          position: "absolute",
          left: 18,
          top: 241,
          transform: "translate(-50%, -50%) rotate(-90deg)",
          whiteSpace: "nowrap",
          fontSize: 16,
          color: "#000000",
          fontFamily: FONT,
        }}
      >
        Normalised component
      </div>
      <div
        style={{
          position: "absolute",
          left: 710,
          top: 497,
          transform: "translate(-50%, -50%)",
          whiteSpace: "nowrap",
          fontSize: 15,
          color: "#000000",
          fontFamily: FONT,
        }}
      >
        age
      </div>
    </div>
  );
}
